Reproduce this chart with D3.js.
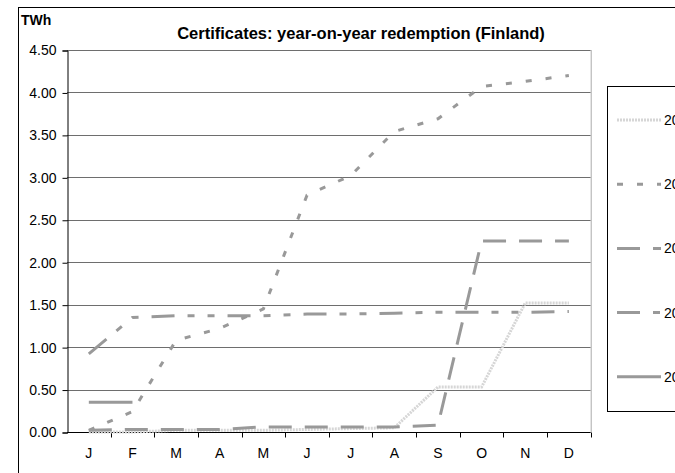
<!DOCTYPE html>
<html>
<head>
<meta charset="utf-8">
<script src="https://cdn.jsdelivr.net/npm/d3@7"></script>
<style>
  body { margin: 0; background: #fff; }
  svg { display: block; font-family: "Liberation Sans", Arial, sans-serif; }
</style>
</head>
<body>
<script>
// months on the x axis
var months = ['J', 'F', 'M', 'A', 'M', 'J', 'J', 'A', 'S', 'O', 'N', 'D'];
var yTicks = [0, 0.5, 1, 1.5, 2, 2.5, 3, 3.5, 4, 4.5];
var years = ['2004', '2005', '2006', '2007', '2008'];

// redemption per year, TWh
var y2004 = [0.00, 0.00, 0.02, 0.02, 0.02, 0.03, 0.04, 0.05, 0.53, 0.53, 1.52, 1.52];
var y2005 = [0.02, 0.24, 1.08, 1.22, 1.45, 2.79, 3.02, 3.54, 3.69, 4.07, 4.13, 4.20];
var y2006 = [0.02, 0.03, 0.03, 0.03, 0.06, 0.06, 0.06, 0.06, 0.08, 2.25, 2.25, 2.25];
var y2007 = [0.92, 1.35, 1.37, 1.37, 1.37, 1.39, 1.39, 1.40, 1.41, 1.41, 1.41, 1.42];
var y2008 = [0.35, 0.35];

var series = [
  { name: years[0], values: y2004, color: '#d6d6d6', dash: '2,1' },
  { name: years[1], values: y2005, color: '#999', dash: '6,14' },
  { name: years[2], values: y2006, color: '#999', dash: '23,13' },
  { name: years[3], values: y2007, color: '#999', dash: '23,13,7,13,7,13' },
  { name: years[4], values: y2008, color: '#999', dash: null }
];

var width = 675, height = 473;
var margin = { left: 67, right: 84.3, top: 50, bottom: 41 };

var svg = d3.select('body').append('svg')
  .attr('width', width)
  .attr('height', height);

// chart frame (runs past the right/bottom edge, as in the source)
svg.append('rect')
  .attr('x', 18.5).attr('y', 7.5)
  .attr('width', 686).attr('height', 500)
  .attr('fill', 'none').attr('stroke', '#000');

var x = d3.scaleBand()
  .domain(d3.range(months.length))
  .range([margin.left, width - margin.right]);

var y = d3.scaleLinear()
  .domain([0, 4.5])
  .range([height - margin.bottom, margin.top]);

// gridlines
svg.append('g').selectAll('line')
  .data(yTicks.slice(1))
  .enter().append('line')
  .attr('x1', margin.left).attr('x2', width - margin.right)
  .attr('y1', d => Math.round(y(d)) + 0.5)
  .attr('y2', d => Math.round(y(d)) + 0.5)
  .attr('stroke', '#6e6e6e');

// plot area right border
svg.append('line')
  .attr('x1', width - margin.right + 0.5).attr('x2', width - margin.right + 0.5)
  .attr('y1', margin.top).attr('y2', height - margin.bottom)
  .attr('stroke', '#aaa');

// y axis
var yAxis = svg.append('g')
  .attr('transform', 'translate(' + (margin.left + 0.5) + ',0.5)')
  .call(d3.axisLeft(y).tickValues(yTicks).tickSize(5).tickPadding(6)
    .tickFormat(d3.format('.2f')));
yAxis.select('.domain').attr('stroke', '#000');
yAxis.selectAll('text').style('font-size', '14px').attr('fill', '#000');

// x axis, ticks between months
var xAxis = svg.append('g')
  .attr('transform', 'translate(0,' + (Math.round(y(0)) + 0.5) + ')');
xAxis.append('line')
  .attr('x1', margin.left).attr('x2', width - margin.right)
  .attr('stroke', '#000');
xAxis.selectAll('.tick')
  .data(d3.range(months.length))
  .enter().append('line')
  .attr('x1', d => Math.round(x(d) + x.bandwidth()) + 0.5)
  .attr('x2', d => Math.round(x(d) + x.bandwidth()) + 0.5)
  .attr('y1', 0).attr('y2', 5)
  .attr('stroke', '#000');
xAxis.selectAll('text')
  .data(months)
  .enter().append('text')
  .attr('x', (d, i) => x(i) + x.bandwidth() / 2)
  .attr('y', 25)
  .attr('text-anchor', 'middle')
  .style('font-size', '14px')
  .text(d => d);

// lines
var line = d3.line()
  .x((d, i) => x(i) + x.bandwidth() / 2)
  .y(d => y(d));

series.forEach(s => {
  svg.append('path')
    .datum(s.values)
    .attr('d', line)
    .attr('fill', 'none')
    .attr('stroke', s.color)
    .attr('stroke-width', 3)
    .attr('stroke-dasharray', s.dash);
});

// title (centred on the whole chart area) + unit
svg.append('text')
  .attr('x', 361).attr('y', 39)
  .attr('text-anchor', 'middle')
  .style('font-size', '16.5px').style('font-weight', 'bold')
  .text('Certificates: year-on-year redemption (Finland)');

svg.append('text')
  .attr('x', 21).attr('y', 25)
  .style('font-size', '14px').style('font-weight', 'bold')
  .text('TWh');

// legend
var legend = svg.append('g');
legend.append('rect')
  .attr('x', 607.5).attr('y', 86.5)
  .attr('width', 120).attr('height', 325)
  .attr('fill', '#fff').attr('stroke', '#000');

var item = legend.selectAll('.item')
  .data(series)
  .enter().append('g')
  .attr('transform', (d, i) => 'translate(0,' + (120 + i * 64.2) + ')');
item.append('line')
  .attr('x1', 617).attr('x2', 661)
  .attr('stroke', d => d.color)
  .attr('stroke-width', 3)
  .attr('stroke-dasharray', d => d.dash);
item.append('text')
  .attr('x', 664).attr('y', 5)
  .style('font-size', '14px')
  .text(d => d.name);
</script>
</body>
</html>
